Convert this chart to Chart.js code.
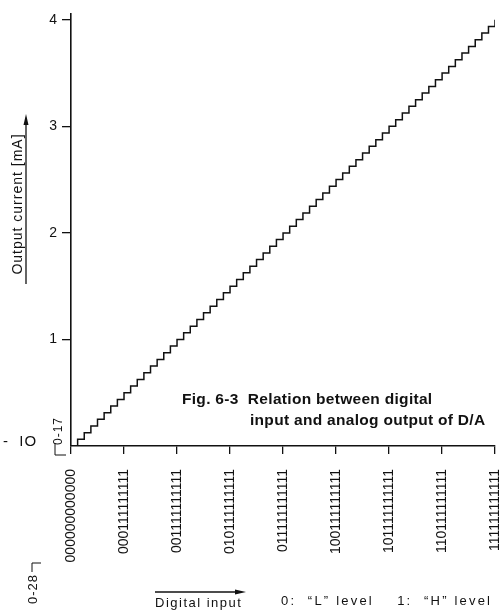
<!DOCTYPE html>
<html>
<head>
<meta charset="utf-8">
<script src="https://cdn.jsdelivr.net/npm/chart.js@4.4.1/dist/chart.umd.min.js"></script>
<style>
  html, body { margin: 0; padding: 0; background: #fff; }
  canvas { display: block; }
</style>
</head>
<body>
<canvas id="daChart" width="503" height="613"></canvas>
<script>
// digital input codes where the output steps (12-bit, 64 LSB per step)
const inputCodes = [
  0, 64, 128, 192, 256, 320, 384, 448, 512, 576, 640, 704, 768, 832, 896, 960,
  1024, 1088, 1152, 1216, 1280, 1344, 1408, 1472, 1536, 1600, 1664, 1728, 1792, 1856, 1920, 1984,
  2048, 2112, 2176, 2240, 2304, 2368, 2432, 2496, 2560, 2624, 2688, 2752, 2816, 2880, 2944, 3008,
  3072, 3136, 3200, 3264, 3328, 3392, 3456, 3520, 3584, 3648, 3712, 3776, 3840, 3904, 3968, 4032,
  4095
];

// output current [mA] at each step
const outputCurrent = [
  0.0000, 0.0625, 0.1250, 0.1875, 0.2500, 0.3125, 0.3750, 0.4375, 0.5000, 0.5625, 0.6250, 0.6875, 0.7500, 0.8125, 0.8750, 0.9375,
  1.0000, 1.0625, 1.1250, 1.1875, 1.2500, 1.3125, 1.3750, 1.4375, 1.5000, 1.5625, 1.6250, 1.6875, 1.7500, 1.8125, 1.8750, 1.9375,
  2.0000, 2.0625, 2.1250, 2.1875, 2.2500, 2.3125, 2.3750, 2.4375, 2.5000, 2.5625, 2.6250, 2.6875, 2.7500, 2.8125, 2.8750, 2.9375,
  3.0000, 3.0625, 3.1250, 3.1875, 3.2500, 3.3125, 3.3750, 3.4375, 3.5000, 3.5625, 3.6250, 3.6875, 3.7500, 3.8125, 3.8750, 3.9375,
  4.0000
];

// x axis ticks
const xTickValues = [0, 511, 1023, 1535, 2047, 2559, 3071, 3583, 4095];
const xTickLabels = [
  '000000000000', '000111111111', '001111111111', '010111111111', '011111111111',
  '100111111111', '101111111111', '110111111111', '111111111111'
];

// y axis ticks
const yTickValues = [1, 2, 3, 4];

const INK = '#111';
const FONT = '"Liberation Sans", Arial, sans-serif';

// extra texts: caption, axis titles, margin notes
const notesPlugin = {
  id: 'notes',
  afterDraw(chart) {
    const c = chart.ctx;
    c.save();
    c.fillStyle = INK;
    c.strokeStyle = INK;
    c.textBaseline = 'alphabetic';
    c.textAlign = 'left';

    // figure caption
    c.font = 'bold 15.5px ' + FONT;
    c.letterSpacing = '0.3px';
    c.fillText('Fig. 6-3  Relation between digital', 182, 404);
    c.fillText('input and analog output of D/A', 250, 425);

    // y axis title (rotated) with up arrow
    c.save();
    c.translate(22, 204);
    c.rotate(-Math.PI / 2);
    c.font = '14px ' + FONT;
    c.letterSpacing = '1px';
    c.textAlign = 'center';
    c.fillText('Output current [mA]', 0, 0);
    c.restore();
    c.lineWidth = 1.3;
    c.beginPath();
    c.moveTo(26, 284); c.lineTo(26, 122);
    c.stroke();
    c.beginPath();
    c.moveTo(26, 114); c.lineTo(23.5, 125); c.lineTo(28.5, 125); c.closePath();
    c.fill();

    // x axis title with right arrow
    c.font = '13px ' + FONT;
    c.letterSpacing = '1.5px';
    c.fillText('Digital input', 155, 607);
    c.beginPath();
    c.moveTo(155, 592); c.lineTo(238, 592);
    c.stroke();
    c.beginPath();
    c.moveTo(246, 592); c.lineTo(235, 589.5); c.lineTo(235, 594.5); c.closePath();
    c.fill();
    c.letterSpacing = '2.2px';
    c.fillText('0:  \u201cL\u201d level    1:  \u201cH\u201d level', 281, 605);

    // margin notes
    c.font = '15px ' + FONT;
    c.letterSpacing = '1px';
    c.fillText('-  IO', 3, 446);
    c.save();
    c.translate(62, 431);
    c.rotate(-Math.PI / 2);
    c.font = '12px ' + FONT;
    c.textAlign = 'center';
    c.fillText('0-17', 0, 0);
    c.restore();
    c.lineWidth = 1;
    c.beginPath();
    c.moveTo(55, 443); c.lineTo(55, 455); c.lineTo(66, 455);
    c.stroke();
    c.save();
    c.translate(37, 589);
    c.rotate(-Math.PI / 2);
    c.font = '13px ' + FONT;
    c.textAlign = 'center';
    c.fillText('0-28', 0, 0);
    c.restore();
    c.beginPath();
    c.moveTo(32, 572); c.lineTo(32, 563); c.lineTo(41, 563);
    c.stroke();

    c.restore();
  }
};

new Chart(document.getElementById('daChart'), {
  type: 'line',
  data: {
    datasets: [{
      data: inputCodes.map((code, i) => ({ x: code, y: outputCurrent[i] })),
      stepped: true,
      borderColor: INK,
      borderWidth: 1.5,
      pointRadius: 0,
      fill: false
    }]
  },
  options: {
    responsive: false,
    animation: false,
    layout: { padding: { top: 8, right: 8, left: 0, bottom: 0 } },
    plugins: {
      legend: { display: false },
      tooltip: { enabled: false }
    },
    scales: {
      x: {
        type: 'linear',
        min: 0,
        max: 4095,
        afterBuildTicks: (scale) => { scale.ticks = xTickValues.map(v => ({ value: v })); },
        afterFit: (scale) => {
          scale.height = 167;
          scale.paddingLeft = 0;
          scale.paddingRight = 0;
        },
        ticks: {
          autoSkip: false,
          minRotation: 90,
          maxRotation: 90,
          padding: 15,
          color: INK,
          font: { family: FONT, size: 14 },
          callback: (value) => xTickLabels[xTickValues.indexOf(value)]
        },
        grid: { drawOnChartArea: false, tickLength: 8, color: INK, lineWidth: 1.3 },
        border: { color: INK, width: 1.6 }
      },
      y: {
        min: 0,
        max: 4.06,
        afterBuildTicks: (scale) => { scale.ticks = yTickValues.map(v => ({ value: v })); },
        afterFit: (scale) => { scale.width = 71; },
        ticks: {
          padding: 5,
          color: INK,
          font: { family: FONT, size: 14 }
        },
        grid: { drawOnChartArea: false, tickLength: 9, color: INK, lineWidth: 1.3 },
        border: { color: INK, width: 1.6 }
      }
    }
  },
  plugins: [notesPlugin]
});
</script>
</body>
</html>
